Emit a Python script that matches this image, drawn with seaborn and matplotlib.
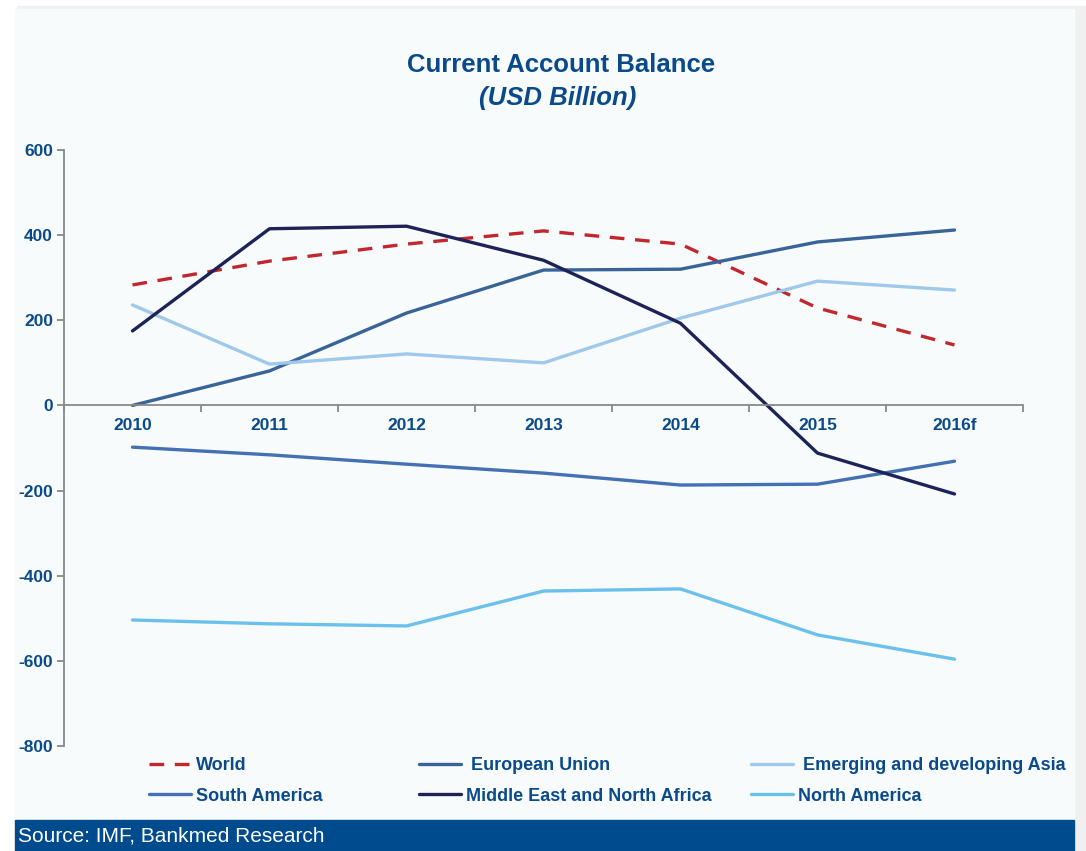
import pandas as pd
import seaborn as sns
import matplotlib.pyplot as plt
from matplotlib.patches import Rectangle
from matplotlib.ticker import FixedLocator

# data (USD billion)
years = ["2010", "2011", "2012", "2013", "2014", "2015", "2016f"]
world = [283, 339, 379, 410, 379, 229, 142]
european_union = [0, 81, 217, 318, 320, 384, 412]
emerging_asia = [236, 97, 121, 100, 205, 292, 271]
south_america = [-98, -116, -138, -159, -187, -185, -131]
mena = [175, 415, 421, 341, 193, -112, -208]
north_america = [-504, -513, -518, -436, -431, -539, -596]

series = {
    "World": world,
    "European Union": european_union,
    "Emerging and developing Asia": emerging_asia,
    "South America": south_america,
    "Middle East and North Africa": mena,
    "North America": north_america,
}
colors = {
    "World": "#c1272d",
    "European Union": "#3a6497",
    "Emerging and developing Asia": "#a0c8eb",
    "South America": "#4470b4",
    "Middle East and North Africa": "#1d2357",
    "North America": "#6cc1ec",
}

df = pd.concat(
    [pd.DataFrame({"year": years, "value": v, "series": k}) for k, v in series.items()],
    ignore_index=True,
)

sns.set_style("white")
plt.rcParams["font.family"] = ["Liberation Sans", "DejaVu Sans"]
plt.rcParams["axes.unicode_minus"] = False

navy = "#0b4a8a"
card = "#f7fbfc"

fig = plt.figure(figsize=(10.86, 8.51), dpi=100)
fig.patch.set_facecolor("white")

# card with a soft shadow, and the source band at the bottom
fig.patches.append(Rectangle((17 / 1086, 0), 1069 / 1086, 1 - 6 / 851,
                             transform=fig.transFigure, color="#f0f0f0", zorder=-3))
fig.patches.append(Rectangle((15 / 1086, 0), 1059 / 1086, 1 - 9 / 851,
                             transform=fig.transFigure, color=card, zorder=-2))
fig.patches.append(Rectangle((15 / 1086, 0), 1059 / 1086, 31 / 851,
                             transform=fig.transFigure, color="#004b8d", zorder=-1))
fig.text(18 / 1086, 15 / 851, "Source: IMF, Bankmed Research", color="white",
         fontsize=15, va="center", ha="left")

ax = fig.add_axes([64 / 1086, 1 - 746 / 851, (1023 - 64) / 1086, (746 - 150) / 851])
ax.set_facecolor(card)

for name in series:
    d = df[df["series"] == name]
    sns.lineplot(data=d, x="year", y="value", ax=ax, color=colors[name],
                 linewidth=2.4, label=name, sort=False,
                 linestyle="--" if name == "World" else "-")
for line in ax.lines:
    if line.get_label() == "World":
        line.set_dashes([4.4, 3.2])

ax.set_xlim(-0.5, 6.5)
ax.set_ylim(-800, 600)
ax.set_yticks(range(-800, 601, 200))
ax.set_xlabel("")
ax.set_ylabel("")

for s in ["top", "right"]:
    ax.spines[s].set_visible(False)
ax.spines["left"].set_color("#888888")
ax.spines["left"].set_linewidth(1.3)
ax.spines["bottom"].set_position(("data", 0))
ax.spines["bottom"].set_color("#888888")
ax.spines["bottom"].set_linewidth(1.3)

ax.xaxis.set_minor_locator(FixedLocator([i + 0.5 for i in range(-1, 7)]))
ax.tick_params(axis="x", which="both", bottom=True)
ax.tick_params(axis="x", which="major", length=0, pad=9)
ax.tick_params(axis="x", which="minor", length=5, color="#888888", width=1.3, direction="out")
ax.tick_params(axis="y", left=True, length=5, color="#888888", width=1.3, direction="out", pad=3)
for lab in ax.get_xticklabels() + ax.get_yticklabels():
    lab.set_color(navy)
    lab.set_fontweight("bold")
    lab.set_fontsize(12.5)

fig.text(561 / 1086, 1 - 65 / 851, "Current Account Balance", color=navy,
         fontsize=18.5, fontweight="bold", ha="center", va="center")
fig.text(558 / 1086, 1 - 98 / 851, "(USD Billion)", color=navy,
         fontsize=18.5, fontweight="bold", fontstyle="italic", ha="center", va="center")

# legend: three columns of two, each placed where the reference has it
handles, labels = ax.get_legend_handles_labels()
ax.get_legend().remove()
labels = [" " + l if l in ("European Union", "Emerging and developing Asia") else l
          for l in labels]
col_x = [149, 419, 751]
for c, idx in enumerate([(0, 3), (1, 4), (2, 5)]):
    leg = fig.legend([handles[i] for i in idx], [labels[i] for i in idx],
                     ncol=1, frameon=False, loc="upper left",
                     bbox_to_anchor=(col_x[c] / 1086, 1 - 757 / 851),
                     borderpad=0, borderaxespad=0,
                     handlelength=2.35, handletextpad=0.25,
                     labelspacing=0.75, prop={"weight": "bold", "size": 13})
    for t in leg.get_texts():
        t.set_color(navy)

fig.savefig("out.png", dpi=100, facecolor=fig.get_facecolor())
